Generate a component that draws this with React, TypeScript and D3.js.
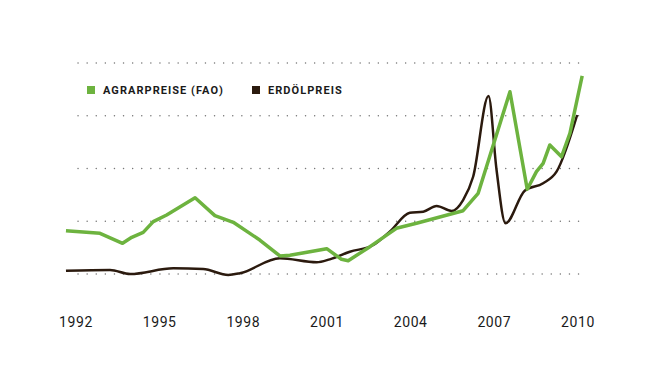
import React, { useEffect, useRef } from "react";
import * as d3 from "d3";

// values (arbitrary index units, gridline every 50)
const agrarYears = [1991.64, 1992.86, 1993.67, 1994.0, 1994.41, 1994.77, 1995.25, 1996.27, 1996.98, 1997.64, 1998.59, 1999.31, 1999.67, 2000.99, 2001.52, 2001.76, 2002.54, 2003.49, 2004.21, 2005.88, 2006.42, 2007.56, 2008.18, 2008.51, 2008.75, 2008.99, 2009.41, 2009.71, 2010.15];
const agrarValues = [41.0, 38.6, 29.1, 34.8, 39.5, 49.6, 55.9, 72.3, 55.3, 49.0, 32.2, 17.1, 17.7, 24.0, 13.9, 12.6, 25.9, 43.3, 48.1, 60.0, 76.5, 172.8, 80.3, 97.0, 104.9, 122.3, 111.2, 133.4, 187.7];

const oilYears = [1991.64, 1993.22, 1993.94, 1995.49, 1996.56, 1997.46, 1997.88, 1999.31, 2000.63, 2001.1, 2001.82, 2002.66, 2003.25, 2003.97, 2004.45, 2004.93, 2005.47, 2005.88, 2006.24, 2006.79, 2007.08, 2007.4, 2008.09, 2008.75, 2009.23, 2009.97];
const oilValues = [3.1, 3.8, 0, 5.4, 4.7, -0.9, 0.7, 14.9, 11.1, 13.9, 21.1, 27.5, 40.1, 58.1, 59.1, 64.5, 59.7, 70.1, 92.2, 168.7, 98.6, 48.1, 79.0, 86.0, 97.0, 150.7];

const tickYears = [1992, 1995, 1998, 2001, 2004, 2007, 2010];
const gridValues = [0, 50, 100, 150, 200];

const GREEN = "#6db33f";
const BROWN = "#2b1a0e";

const W = 656;
const H = 369;

export default function App() {
  const ref = useRef<SVGSVGElement>(null);

  useEffect(() => {
    const svg = d3.select(ref.current);
    svg.selectAll("*").remove();

    const x = d3.scaleLinear().domain([1992, 2010]).range([76, 578]);
    const y = d3.scaleLinear().domain([0, 200]).range([274, 63]);

    // dotted gridlines
    svg
      .append("g")
      .selectAll("line")
      .data(gridValues)
      .enter()
      .append("line")
      .attr("x1", 78)
      .attr("x2", 581)
      .attr("y1", (d) => y(d))
      .attr("y2", (d) => y(d))
      .attr("stroke", "#777")
      .attr("stroke-width", 1.4)
      .attr("stroke-linecap", "round")
      .attr("stroke-dasharray", "0.1 9");

    // x labels
    svg
      .append("g")
      .selectAll("text")
      .data(tickYears)
      .enter()
      .append("text")
      .attr("x", (d) => x(d))
      .attr("y", 327)
      .attr("text-anchor", "middle")
      .attr("font-family", "Roboto, sans-serif")
      .attr("font-size", 14)
      .attr("letter-spacing", 0.6)
      .attr("fill", "#1a1a1a")
      .text((d) => d);

    const oilLine = d3
      .line<[number, number]>()
      .x((d) => x(d[0]))
      .y((d) => y(d[1]))
      .curve(d3.curveMonotoneX);

    // the agrar series is drawn with straight segments
    const agrarLine = d3
      .line<[number, number]>()
      .x((d) => x(d[0]))
      .y((d) => y(d[1]));

    const oil = oilYears.map((yr, i) => [yr, oilValues[i]] as [number, number]);
    const agrar = agrarYears.map((yr, i) => [yr, agrarValues[i]] as [number, number]);

    svg
      .append("path")
      .attr("d", oilLine(oil))
      .attr("fill", "none")
      .attr("stroke", BROWN)
      .attr("stroke-width", 2.5)
      .attr("stroke-linejoin", "round");

    svg
      .append("path")
      .attr("d", agrarLine(agrar))
      .attr("fill", "none")
      .attr("stroke", GREEN)
      .attr("stroke-width", 3.5)
      .attr("stroke-linejoin", "round");

    // legend
    const legend = [
      { label: "AGRARPREISE (FAO)", color: GREEN, x: 87 },
      { label: "ERDÖLPREIS", color: BROWN, x: 252 },
    ];
    const lg = svg.append("g");
    legend.forEach((l) => {
      lg.append("rect")
        .attr("x", l.x)
        .attr("y", 86)
        .attr("width", 8)
        .attr("height", 8)
        .attr("fill", l.color);
      lg.append("text")
        .attr("x", l.x + 16)
        .attr("y", 94)
        .attr("font-family", "Roboto, sans-serif")
        .attr("font-weight", "bold")
        .attr("font-size", 11)
        .attr("letter-spacing", 1.05)
        .attr("fill", "#1a1a1a")
        .text(l.label);
    });
  }, []);

  return (
    <svg
      ref={ref}
      width={W}
      height={H}
      style={{ position: "absolute", left: 0, top: 0, background: "#fff" }}
    />
  );
}
